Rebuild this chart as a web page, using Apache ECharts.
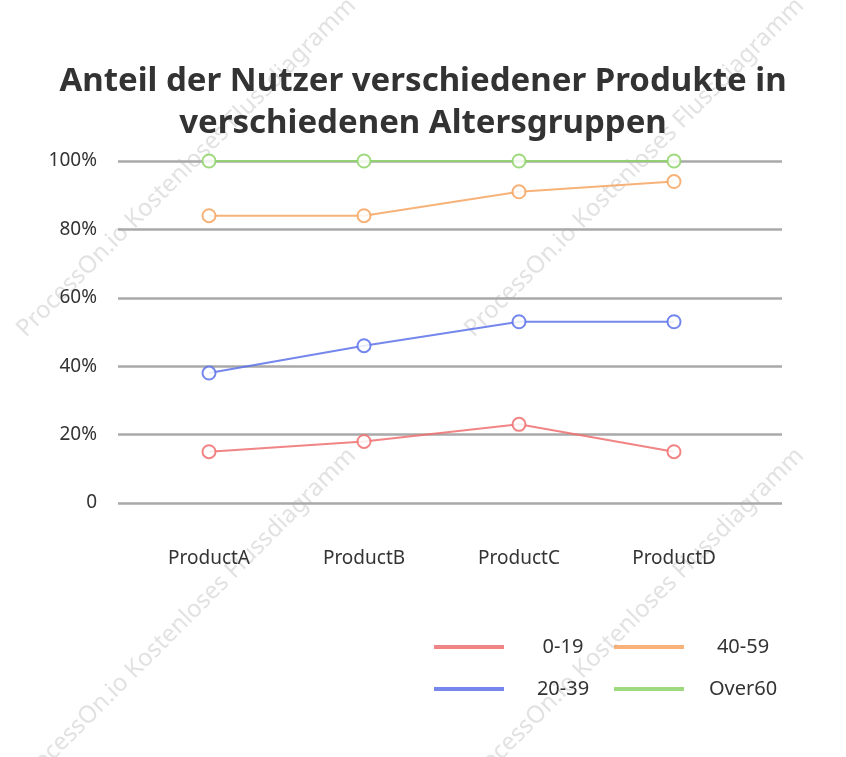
<!DOCTYPE html>
<html>
<head>
<meta charset="utf-8">
<script src="https://cdn.jsdelivr.net/npm/echarts@6/dist/echarts.min.js"></script>
<style>
  html, body { margin: 0; padding: 0; background: #fff; }
  #chart { width: 846px; height: 757px; }
</style>
</head>
<body>
<div id="chart"></div>
<script>
const products = ['ProductA', 'ProductB', 'ProductC', 'ProductD'];
const seriesNames = ['0-19', '20-39', '40-59', 'Over60'];
const age0to19 = [15, 18, 23, 15];
const age20to39 = [38, 46, 53, 53];
const age40to59 = [84, 84, 91, 94];
const ageOver60 = [100, 100, 100, 100];
const yTickLabels = ['0', '20%', '40%', '60%', '80%', '100%'];

const colors = ['#ef6f6f', '#5d72e9', '#f5a560', '#8fd46a'];
const seriesData = [age0to19, age20to39, age40to59, ageOver60];

const font = '"Noto Sans", sans-serif';

// watermark tiles
const wmText = 'ProcessOn.io Kostenloses Flussdiagramm';
const wmEnds = [[352, 2], [800, 2], [352, 452], [800, 452]];
const watermarks = wmEnds.map(function (p) {
    return {
        type: 'text',
        x: p[0],
        y: p[1],
        rotation: Math.PI / 4,
        silent: true,
        z: 0,
        style: {
            text: wmText,
            font: '24px ' + font,
            fill: '#e2e2e2',
            align: 'right',
            verticalAlign: 'middle'
        }
    };
});

const legendRich = {
    a: { width: 108, align: 'center', fontSize: 20, lineHeight: 24, color: '#333', fontFamily: font }
};

const option = {
    backgroundColor: '#fff',
    color: colors,
    title: {
        text: 'Anteil der Nutzer verschiedener Produkte in\nverschiedenen Altersgruppen',
        left: 'center',
        top: 56,
        textStyle: {
            fontSize: 33,
            fontWeight: 'bold',
            color: '#333',
            lineHeight: 42,
            fontFamily: font
        }
    },
    graphic: watermarks,
    legend: [
        {
            data: ['0-19', '20-39'],
            orient: 'vertical',
            left: 429,
            top: 632,
            icon: 'rect',
            itemWidth: 70,
            itemHeight: 4,
            itemGap: 22,
            formatter: '{a|{name}}',
            textStyle: { rich: legendRich }
        },
        {
            data: ['40-59', 'Over60'],
            orient: 'vertical',
            left: 609,
            top: 632,
            icon: 'rect',
            itemWidth: 70,
            itemHeight: 4,
            itemGap: 22,
            formatter: '{a|{name}}',
            textStyle: { rich: legendRich }
        }
    ],
    grid: [
        { left: 118, right: 64, top: 161, bottom: 254 },
        { left: 209, right: 172, top: 161, bottom: 254 }
    ],
    xAxis: [
        { type: 'category', gridIndex: 0, data: products, show: false },
        {
            type: 'category',
            gridIndex: 1,
            data: products,
            boundaryGap: false,
            axisLine: { show: false },
            axisTick: { show: false },
            axisLabel: { margin: 46, fontSize: 19, color: '#333', fontFamily: font }
        }
    ],
    yAxis: [
        {
            type: 'value',
            gridIndex: 0,
            min: 0,
            max: 100,
            interval: 20,
            axisLine: { show: false },
            axisTick: { show: false },
            splitLine: { lineStyle: { color: '#a9a9a9', width: 2.5 } },
            axisLabel: {
                margin: 21,
                fontSize: 19,
                color: '#333',
                fontFamily: font,
                formatter: function (v) { return yTickLabels[Math.round(v / 20)]; }
            }
        },
        { type: 'value', gridIndex: 1, min: 0, max: 100, show: false }
    ],
    series: seriesNames.map(function (name, i) {
        return {
            name: name,
            type: 'line',
            xAxisIndex: 1,
            yAxisIndex: 1,
            data: seriesData[i],
            symbol: 'emptyCircle',
            symbolSize: 13,
            z: 5,
            lineStyle: { width: 2, opacity: 0.85 },
            itemStyle: { borderWidth: 2, opacity: 0.85 }
        };
    })
};

const chart = echarts.init(document.getElementById('chart'));
chart.setOption(option);
</script>
</body>
</html>
